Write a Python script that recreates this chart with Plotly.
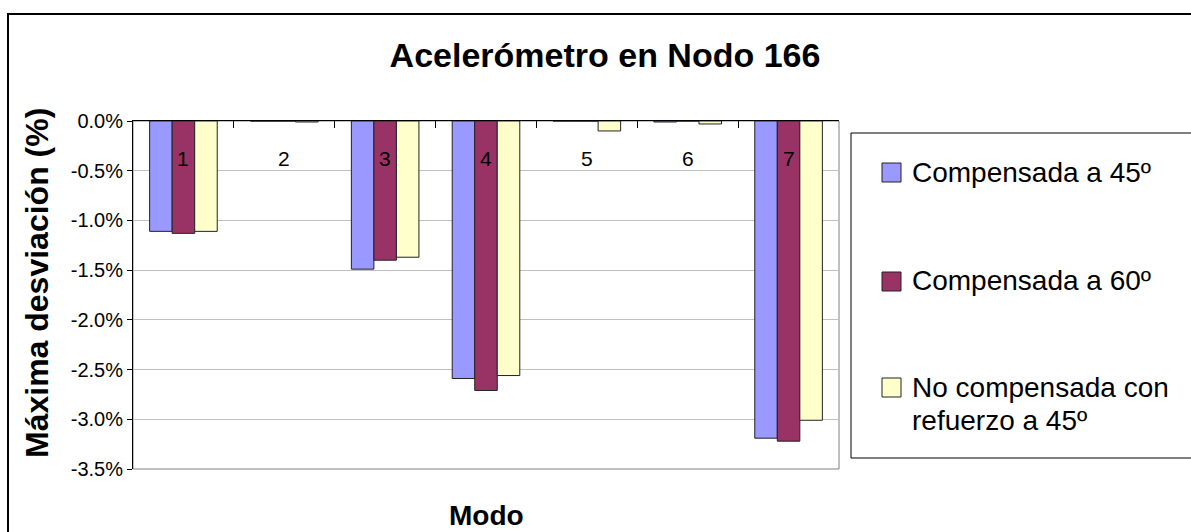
import plotly.graph_objects as go

# Data: maximum deviation (%) per mode for the three configurations
modos = [1, 2, 3, 4, 5, 6, 7]
modo_labels = ["1", "2", "3", "4", "5", "6", "7"]
compensada_45 = [-1.11, 0.0, -1.49, -2.59, 0.0, -0.01, -3.19]
compensada_60 = [-1.13, 0.0, -1.40, -2.71, 0.0, 0.0, -3.22]
no_compensada_45 = [-1.11, -0.01, -1.37, -2.56, -0.10, -0.03, -3.01]

series_names = ["Compensada a 45º", "Compensada a 60º", "No compensada con<br>refuerzo a 45º"]
series_values = [compensada_45, compensada_60, no_compensada_45]
series_colors = ["#9999FF", "#993366", "#FFFFCC"]

y_ticks = [0.0, -0.5, -1.0, -1.5, -2.0, -2.5, -3.0, -3.5]
y_tick_labels = ["0.0%", "-0.5%", "-1.0%", "-1.5%", "-2.0%", "-2.5%", "-3.0%", "-3.5%"]

W, H = 1191, 532
L, R, T, B = 133, 839, 121, 469  # plot area in pixels
FONT = "Liberation Sans, Arial, sans-serif"


def px(x):
    return (x - L) / (R - L)


def py(y):
    return (B - y) / (B - T)


fig = go.Figure()
for name, vals, col in zip(series_names, series_values, series_colors):
    fig.add_trace(go.Bar(
        x=modos, y=vals, name=name,
        marker=dict(color=col, line=dict(color="#222222", width=1)),
        showlegend=False,
    ))

fig.update_layout(
    width=W, height=H,
    margin=dict(l=L, r=W - R, t=T, b=H - B),
    paper_bgcolor="white", plot_bgcolor="white",
    barmode="group", bargap=0.33, bargroupgap=0,
    font=dict(family=FONT, color="black", size=20),
    title=dict(text="<b>Acelerómetro en Nodo 166</b>", x=605 / W, xanchor="center",
               y=1 - 55 / H, yanchor="middle", yref="container",
               font=dict(size=34, family=FONT)),
)

# category boundaries carry the tick marks on the zero line
boundaries = [m + 0.5 for m in modos[:-1]]
fig.update_xaxes(
    range=[modos[0] - 0.5, modos[-1] + 0.5], side="top", showticklabels=False,
    tickvals=boundaries,
    showline=True, linecolor="black", linewidth=1,
    ticks="inside", ticklen=7, tickcolor="black",
    showgrid=False, zeroline=False,
)
fig.update_yaxes(
    range=[-3.5, 0], tickvals=y_ticks, ticktext=y_tick_labels,
    showline=True, linecolor="black", linewidth=1,
    ticks="outside", ticklen=5, tickcolor="black",
    showgrid=True, gridcolor="#C0C0C0", gridwidth=1, zeroline=False,
    tickfont=dict(size=20),
)

shapes = [
    # plot area frame
    dict(type="rect", xref="paper", yref="paper", x0=0, x1=1, y0=0, y1=1,
         line=dict(color="#808080", width=1), layer="below"),
    # chart area frame
    dict(type="rect", xref="paper", yref="paper", x0=px(8), x1=px(1200), y0=py(14), y1=py(545),
         line=dict(color="black", width=2)),
    # legend frame
    dict(type="rect", xref="paper", yref="paper", x0=px(851), x1=px(1200), y0=py(133), y1=py(458),
         line=dict(color="black", width=1), fillcolor="white"),
]

annotations = []
# category labels just under the zero line
for m, lab in zip(modos, modo_labels):
    annotations.append(dict(x=m, y=0, xref="x", yref="y", text=lab, showarrow=False,
                            yanchor="middle", yshift=-37, font=dict(size=21)))

# legend entries
swatch_tops = [163, 272, 378]
text_tops = [172, 280, 387]
for name, col, st, tc in zip(series_names, series_colors, swatch_tops, text_tops):
    shapes.append(dict(type="rect", xref="paper", yref="paper", x0=px(882), x1=px(901),
                       y0=py(st), y1=py(st + 19), fillcolor=col,
                       line=dict(color="#222222", width=1)))
    lines = name.split("<br>")
    for i, ln in enumerate(lines):
        annotations.append(dict(x=px(910), y=py(tc + 33 * i), xref="paper", yref="paper",
                                text=ln, showarrow=False, xanchor="left", yanchor="middle",
                                font=dict(size=28)))

# axis titles
annotations.append(dict(x=px(486), y=py(515), xref="paper", yref="paper", text="<b>Modo</b>",
                        showarrow=False, xanchor="center", yanchor="middle", font=dict(size=28)))
annotations.append(dict(x=px(37), y=py(283), xref="paper", yref="paper",
                        text="<b>Máxima desviación (%)</b>", textangle=-90,
                        showarrow=False, xanchor="center", yanchor="middle", font=dict(size=32)))

fig.update_layout(shapes=shapes, annotations=annotations)
fig.write_html("out.html")
